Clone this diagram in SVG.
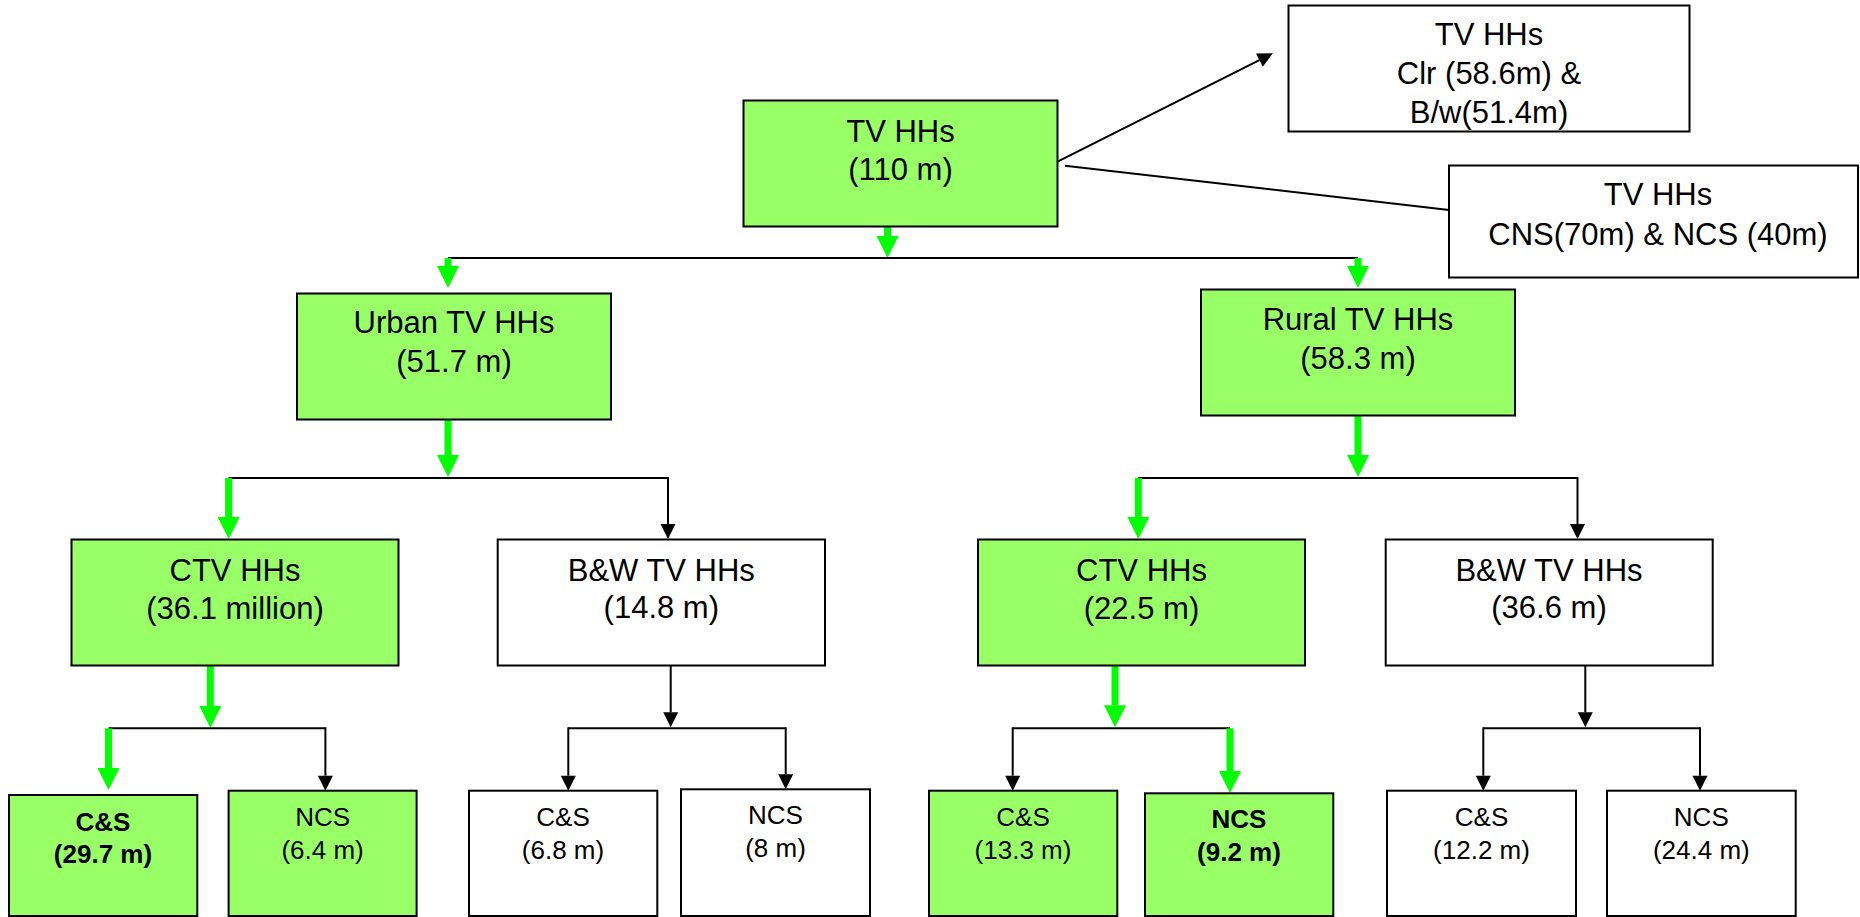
<svg xmlns="http://www.w3.org/2000/svg" width="1860" height="917" viewBox="0 0 1860 917">
<style>
  .g{fill:#99FF66;stroke:#000;stroke-width:2}
  .w{fill:#fff;stroke:#000;stroke-width:2}
  text{font-family:"Liberation Sans",Arial,sans-serif;fill:#000;text-anchor:middle}
  .big{font-size:31px}
  .sm{font-size:26px}
  .b{font-weight:bold}
  .bl{stroke:#000;stroke-width:2;fill:none}
  .ga{stroke:#00FF00;stroke-width:7;fill:none;marker-end:url(#gh)}
  .ka{stroke:#000;stroke-width:2;fill:none;marker-end:url(#kh)}
</style>
<defs>
  <marker id="gh" markerUnits="userSpaceOnUse" markerWidth="23" markerHeight="22" refX="0" refY="11" orient="auto" overflow="visible">
    <path d="M0,0 L22,11 L0,22 z" fill="#00FF00"/>
  </marker>
  <marker id="kh" markerUnits="userSpaceOnUse" markerWidth="16" markerHeight="15" refX="0" refY="7.5" orient="auto" overflow="visible">
    <path d="M0,0 L15,7.5 L0,15 z" fill="#000"/>
  </marker>
</defs>
<rect width="1860" height="917" fill="#fff"/>

<g id="connectors">
  <line class="bl" x1="1049.6" y1="165.7" x2="1259.4" y2="60.1" style="marker-end:url(#kh)"/>
  <line class="bl" x1="1065" y1="165.7" x2="1449" y2="210"/>
  <line class="ga" x1="887.5" y1="227" x2="887.5" y2="236"/>
  <line class="bl" x1="448" y1="258" x2="1358" y2="258"/>
  <line class="ga" x1="448" y1="258" x2="448" y2="266"/>
  <line class="ga" x1="1358" y1="258" x2="1358" y2="266"/>
  <line class="ga" x1="448" y1="418" x2="448" y2="455"/>
  <line class="bl" x1="228.6" y1="478" x2="668" y2="478"/>
  <line class="ga" x1="228.6" y1="478" x2="228.6" y2="517"/>
  <line class="ka" x1="668" y1="477" x2="668" y2="524"/>
  <line class="ga" x1="1358" y1="414" x2="1358" y2="455"/>
  <line class="bl" x1="1138.3" y1="478" x2="1577.5" y2="478"/>
  <line class="ga" x1="1138.3" y1="478" x2="1138.3" y2="517"/>
  <line class="ka" x1="1577.5" y1="477" x2="1577.5" y2="524"/>
  <line class="ga" x1="210.3" y1="665" x2="210.3" y2="706"/>
  <line class="bl" x1="108.5" y1="728.3" x2="325.4" y2="728.3"/>
  <line class="ga" x1="108.5" y1="728.3" x2="108.5" y2="768"/>
  <line class="ka" x1="325.4" y1="727.3" x2="325.4" y2="775.7"/>
  <line class="ka" x1="670.7" y1="665" x2="670.7" y2="712.3"/>
  <line class="bl" x1="568.3" y1="728.3" x2="785.7" y2="728.3"/>
  <line class="ka" x1="568.3" y1="727.3" x2="568.3" y2="775.7"/>
  <line class="ka" x1="785.7" y1="727.3" x2="785.7" y2="774.3"/>
  <line class="ga" x1="1115" y1="665.7" x2="1115" y2="705.3"/>
  <line class="bl" x1="1012.7" y1="728.3" x2="1230" y2="728.3"/>
  <line class="ka" x1="1012.7" y1="727.3" x2="1012.7" y2="775.7"/>
  <line class="ga" x1="1230" y1="728.3" x2="1230" y2="771"/>
  <line class="ka" x1="1585.3" y1="665" x2="1585.3" y2="712.3"/>
  <line class="bl" x1="1483.3" y1="728.3" x2="1700" y2="728.3"/>
  <line class="ka" x1="1483.3" y1="727.3" x2="1483.3" y2="775.7"/>
  <line class="ka" x1="1700" y1="727.3" x2="1700" y2="775.7"/>
</g>

<g id="n-tv">
  <rect class="g" x="743.5" y="100.5" width="314" height="126"/>
  <text class="big" x="900.5" y="142">TV HHs</text>
  <text class="big" x="900.5" y="180">(110 m)</text>
</g>
<g id="n-clr">
  <rect class="w" x="1288.5" y="5.5" width="401" height="126"/>
  <text class="big" x="1489" y="45">TV HHs</text>
  <text class="big" x="1489" y="84">Clr (58.6m) &amp;</text>
  <text class="big" x="1489" y="123">B/w(51.4m)</text>
</g>
<g id="n-cns">
  <rect class="w" x="1449" y="165.5" width="409" height="112"/>
  <text class="big" x="1658" y="205">TV HHs</text>
  <text class="big" x="1658" y="245">CNS(70m) &amp; NCS (40m)</text>
</g>
<g id="n-urban">
  <rect class="g" x="297" y="293.5" width="314" height="126"/>
  <text class="big" x="454" y="333">Urban TV HHs</text>
  <text class="big" x="454" y="372">(51.7 m)</text>
</g>
<g id="n-rural">
  <rect class="g" x="1201" y="289.5" width="314" height="126"/>
  <text class="big" x="1358" y="330">Rural TV HHs</text>
  <text class="big" x="1358" y="369">(58.3 m)</text>
</g>
<g id="n-ctv-u">
  <rect class="g" x="71.5" y="539.5" width="327" height="126"/>
  <text class="big" x="235" y="581">CTV HHs</text>
  <text class="big" x="235" y="619">(36.1 million)</text>
</g>
<g id="n-bw-u">
  <rect class="w" x="497.7" y="539.5" width="327.3" height="126"/>
  <text class="big" x="661.3" y="581">B&amp;W TV HHs</text>
  <text class="big" x="661.3" y="618">(14.8 m)</text>
</g>
<g id="n-ctv-r">
  <rect class="g" x="978" y="539.5" width="327" height="126"/>
  <text class="big" x="1141.5" y="581">CTV HHs</text>
  <text class="big" x="1141.5" y="619">(22.5 m)</text>
</g>
<g id="n-bw-r">
  <rect class="w" x="1385.7" y="539.5" width="327" height="126"/>
  <text class="big" x="1549" y="581">B&amp;W TV HHs</text>
  <text class="big" x="1549" y="618">(36.6 m)</text>
</g>

<g id="n-cs-u">
  <rect class="g" x="9" y="795" width="188.3" height="121"/>
  <text class="sm b" x="103" y="831">C&amp;S</text>
  <text class="sm b" x="103" y="863">(29.7 m)</text>
</g>
<g id="n-ncs-u">
  <rect class="g" x="228.6" y="790.7" width="188" height="125.3"/>
  <text class="sm" x="322.6" y="825.7">NCS</text>
  <text class="sm" x="322.6" y="859">(6.4 m)</text>
</g>
<g id="n-cs-ub">
  <rect class="w" x="469" y="790.7" width="188.3" height="125.3"/>
  <text class="sm" x="563" y="825.7">C&amp;S</text>
  <text class="sm" x="563" y="859">(6.8 m)</text>
</g>
<g id="n-ncs-ub">
  <rect class="w" x="681" y="789.3" width="189" height="126.7"/>
  <text class="sm" x="775.5" y="824.3">NCS</text>
  <text class="sm" x="775.5" y="857.3">(8 m)</text>
</g>
<g id="n-cs-r">
  <rect class="g" x="929" y="790.7" width="188.3" height="125.3"/>
  <text class="sm" x="1023" y="825.7">C&amp;S</text>
  <text class="sm" x="1023" y="859">(13.3 m)</text>
</g>
<g id="n-ncs-r">
  <rect class="g" x="1145" y="793.3" width="188.3" height="122.7"/>
  <text class="sm b" x="1239" y="828.3">NCS</text>
  <text class="sm b" x="1239" y="860.7">(9.2 m)</text>
</g>
<g id="n-cs-rb">
  <rect class="w" x="1387" y="790.7" width="189" height="125.3"/>
  <text class="sm" x="1481.5" y="825.7">C&amp;S</text>
  <text class="sm" x="1481.5" y="859">(12.2 m)</text>
</g>
<g id="n-ncs-rb">
  <rect class="w" x="1607" y="790.7" width="188.7" height="125.3"/>
  <text class="sm" x="1701.3" y="825.7">NCS</text>
  <text class="sm" x="1701.3" y="859">(24.4 m)</text>
</g>
</svg>
